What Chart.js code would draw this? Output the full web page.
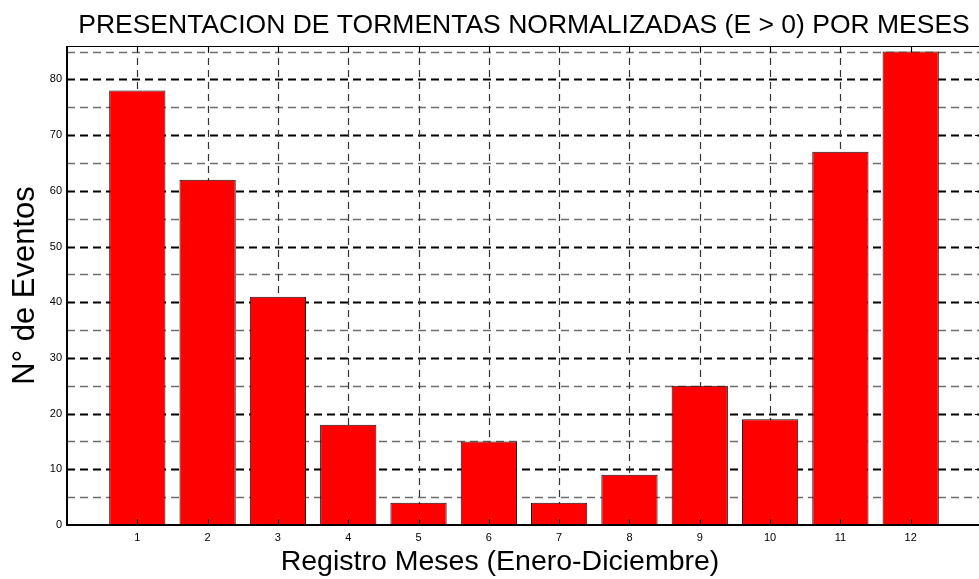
<!DOCTYPE html>
<html>
<head>
<meta charset="utf-8">
<title>Tormentas por meses</title>
<script src="https://cdn.jsdelivr.net/npm/chart.js@4.4.1/dist/chart.umd.min.js"></script>
<style>
  html, body { margin: 0; padding: 0; background: #fff; overflow: hidden; }
  #wrap { position: absolute; left: 0; top: 0; width: 981px; height: 579px; }
</style>
</head>
<body>
<div id="wrap"><canvas id="bars" width="981" height="579"></canvas></div>
<script>
// monthly storm counts (E > 0)
const months = [1, 2, 3, 4, 5, 6, 7, 8, 9, 10, 11, 12];
const events = [78, 62, 41, 18, 4, 15, 4, 9, 25, 19, 67, 85];
const yTickLabels = [0, 10, 20, 30, 40, 50, 60, 70, 80];
const yGridValues = [5, 10, 15, 20, 25, 30, 35, 40, 45, 50, 55, 60, 65, 70, 75, 80, 85];

const titleText = "PRESENTACION DE TORMENTAS NORMALIZADAS (E > 0) POR MESES";
const xTitle = "Registro Meses (Enero-Diciembre)";
const yTitle = "N\u00b0 de Eventos";

const fontFamily = "'Liberation Sans', Arial, Helvetica, sans-serif";
Chart.defaults.font.family = fontFamily;
Chart.defaults.color = "#000";

// dashed grid under the bars, axis box, tick marks and x label on top
const matlabAxes = {
    id: "matlabAxes",
    beforeDatasetsDraw(chart) {
        const { ctx, chartArea: a, scales: { x, y } } = chart;
        ctx.save();
        ctx.setLineDash([8, 5]);
        yGridValues.forEach(v => {
            const py = Math.round(y.getPixelForValue(v)) + 0.5;
            const major = v % 10 === 0;
            ctx.strokeStyle = major ? "#000" : "#6e6e6e";
            ctx.lineWidth = major ? 1.8 : 1.4;
            ctx.beginPath();
            ctx.moveTo(a.left, py);
            ctx.lineTo(a.right, py);
            ctx.stroke();
        });
        ctx.setLineDash([7, 5]);
        ctx.strokeStyle = "#333";
        ctx.lineWidth = 1.2;
        months.forEach(m => {
            const px = Math.round(x.getPixelForValue(m)) + 0.5;
            ctx.beginPath();
            ctx.moveTo(px, a.top);
            ctx.lineTo(px, a.bottom);
            ctx.stroke();
        });
        ctx.restore();
    },
    afterDatasetsDraw(chart) {
        const { ctx, chartArea: a, scales: { x, y } } = chart;
        const tick = 6;
        ctx.save();
        ctx.setLineDash([]);
        ctx.strokeStyle = "#000";

        ctx.lineWidth = 1;
        ctx.beginPath();
        months.forEach(m => {
            const px = Math.round(x.getPixelForValue(m)) + 0.5;
            ctx.moveTo(px, a.bottom);
            ctx.lineTo(px, a.bottom - tick);
            ctx.moveTo(px, a.top);
            ctx.lineTo(px, a.top + tick);
        });
        yTickLabels.forEach(v => {
            const py = Math.round(y.getPixelForValue(v)) + 0.5;
            ctx.moveTo(a.left, py);
            ctx.lineTo(a.left + tick, py);
            ctx.moveTo(a.right, py);
            ctx.lineTo(a.right - tick, py);
        });
        ctx.stroke();

        // top and right edges
        ctx.lineWidth = 1;
        ctx.beginPath();
        ctx.moveTo(a.left, a.top + 0.5);
        ctx.lineTo(a.right, a.top + 0.5);
        ctx.moveTo(a.right - 0.5, a.top);
        ctx.lineTo(a.right - 0.5, a.bottom);
        ctx.stroke();

        // left and bottom axes
        ctx.lineWidth = 2;
        ctx.beginPath();
        ctx.moveTo(a.left, a.top);
        ctx.lineTo(a.left, a.bottom);
        ctx.lineTo(a.right, a.bottom);
        ctx.stroke();

        // x axis label, set a little left of the axes centre
        ctx.fillStyle = "#000";
        ctx.font = "28.5px " + fontFamily;
        ctx.textAlign = "center";
        ctx.textBaseline = "middle";
        ctx.fillText(xTitle, 500, 562);
        ctx.restore();
    }
};

new Chart(document.getElementById("bars"), {
    type: "bar",
    data: {
        datasets: [{
            data: months.map((m, i) => ({ x: m, y: events[i] })),
            backgroundColor: "#ff0000",
            borderColor: "#111",
            borderWidth: 1,
            borderSkipped: "bottom",
            barPercentage: 0.8,
            categoryPercentage: 1.0,
        }],
    },
    options: {
        responsive: false,
        devicePixelRatio: 1,
        animation: false,
        layout: { padding: 0 },
        plugins: {
            legend: { display: false },
            tooltip: { enabled: false },
            title: {
                display: true,
                text: titleText,
                fullSize: false,
                color: "#000",
                font: { size: 26.5, weight: "normal" },
                padding: { top: 10, bottom: 4.2 },
            },
        },
        scales: {
            x: {
                type: "linear",
                min: 0,
                max: 13,
                offset: false,
                grid: { display: false, drawTicks: false, offset: false },
                border: { display: false },
                ticks: {
                    stepSize: 1,
                    autoSkip: false,
                    maxRotation: 0,
                    padding: 6,
                    font: { size: 11 },
                },
                afterBuildTicks: s => { s.ticks = s.ticks.filter(t => months.includes(t.value)); },
                afterFit: s => { s.height = 54; },
            },
            y: {
                min: 0,
                max: 86,
                grid: { display: false, drawTicks: false },
                border: { display: false },
                ticks: {
                    stepSize: 10,
                    padding: 5,
                    font: { size: 11 },
                },
                afterBuildTicks: s => { s.ticks = s.ticks.filter(t => yTickLabels.includes(t.value)); },
                afterFit: s => { s.width = 67; },
                title: {
                    display: true,
                    text: yTitle,
                    font: { size: 31 },
                    padding: 7,
                },
            },
        },
    },
    plugins: [matlabAxes],
});
</script>
</body>
</html>
